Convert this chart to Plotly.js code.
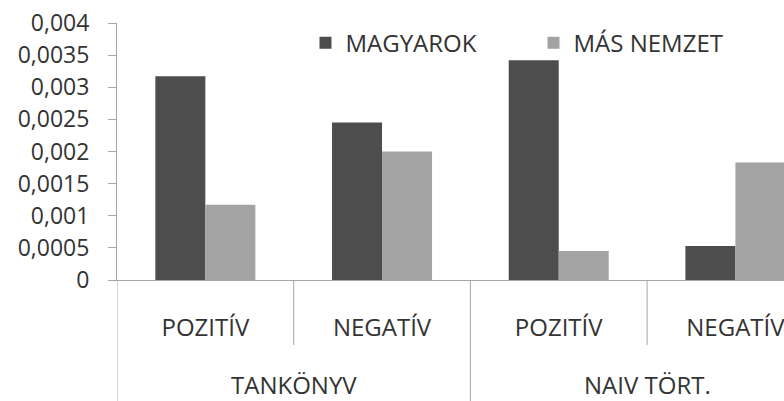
<!DOCTYPE html>
<html>
<head>
<meta charset="utf-8">
<script src="https://cdn.plot.ly/plotly-3.0.1.min.js"></script>
<style>
html,body{margin:0;padding:0;background:#fff;overflow:hidden;}
#chart{width:784px;height:401px;}
</style>
</head>
<body>
<div id="chart"></div>
<script>
// Data
const subCategories = ["POZITÍV", "NEGATÍV", "POZITÍV", "NEGATÍV"];
const groupLabels = ["TANKÖNYV", "NAIV TÖRT."];
const seriesNames = ["MAGYAROK", "MÁS NEMZET"];
const magyarok = [0.00317, 0.00245, 0.00342, 0.00053];
const masNemzet = [0.00117, 0.00200, 0.00045, 0.00183];
const yTickVals = [0, 0.0005, 0.001, 0.0015, 0.002, 0.0025, 0.003, 0.0035, 0.004];
const yTickLabels = ["0", "0,0005", "0,001", "0,0015", "0,002", "0,0025", "0,003", "0,0035", "0,004"];

const xIdx = subCategories.map((_, i) => i);
const FONT = "Open Sans, Liberation Sans, sans-serif";
const TXT = "#333333";
const AX = "#a6a6a6";

const traces = [
  {type: "bar", name: seriesNames[0], x: xIdx, y: magyarok,
   marker: {color: "#4d4d4d", line: {width: 0}}},
  {type: "bar", name: seriesNames[1], x: xIdx, y: masNemzet,
   marker: {color: "#a3a3a3", line: {width: 0}}}
];

// dividers: between sub categories (short) and between groups (long)
const shapes = [];
for (let i = 0; i <= subCategories.length; i++) {
  const xb = i - 0.5;
  const isGroup = (i % 2 === 0);
  shapes.push({type: "line", xref: "x", yref: "paper", x0: xb, x1: xb,
    y0: 0, y1: isGroup ? -0.48 : -0.253, line: {color: AX, width: 1}});
}
const annotations = groupLabels.map((g, k) => ({
  text: g, xref: "x", yref: "paper", x: k * 2 + 0.5, y: -0.405,
  showarrow: false, xanchor: "center", yanchor: "middle",
  font: {family: FONT, size: 24, color: TXT}
}));

const layout = {
  width: 784, height: 401,
  margin: {l: 117, r: 0, t: 23, b: 121, pad: 0},
  paper_bgcolor: "#fff", plot_bgcolor: "#fff",
  barmode: "group", bargap: 0.434, bargroupgap: 0,
  showlegend: true,
  legend: {orientation: "h", x: 0.2826, y: 0.922, xanchor: "left", yanchor: "middle",
    font: {family: FONT, size: 24, color: TXT}, entrywidth: 183, bgcolor: "rgba(0,0,0,0)"},
  xaxis: {range: [-0.5, 3.275], tickvals: xIdx, ticktext: subCategories,
    showline: true, linecolor: AX, linewidth: 1, ticks: "", showgrid: false, zeroline: false,
    ticklabelstandoff: 26, ticklabeloverflow: "allow",
    tickfont: {family: FONT, size: 24, color: TXT}, fixedrange: true},
  yaxis: {range: [0, 0.004], tickvals: yTickVals, ticktext: yTickLabels,
    showline: true, linecolor: AX, linewidth: 1, ticks: "outside", ticklen: 8, tickcolor: AX,
    showgrid: false, zeroline: false, ticklabelstandoff: 14,
    tickfont: {family: FONT, size: 23, color: TXT}},
  shapes: shapes, annotations: annotations
};

Plotly.newPlot("chart", traces, layout, {displayModeBar: false, staticPlot: true});
</script>
</body>
</html>
